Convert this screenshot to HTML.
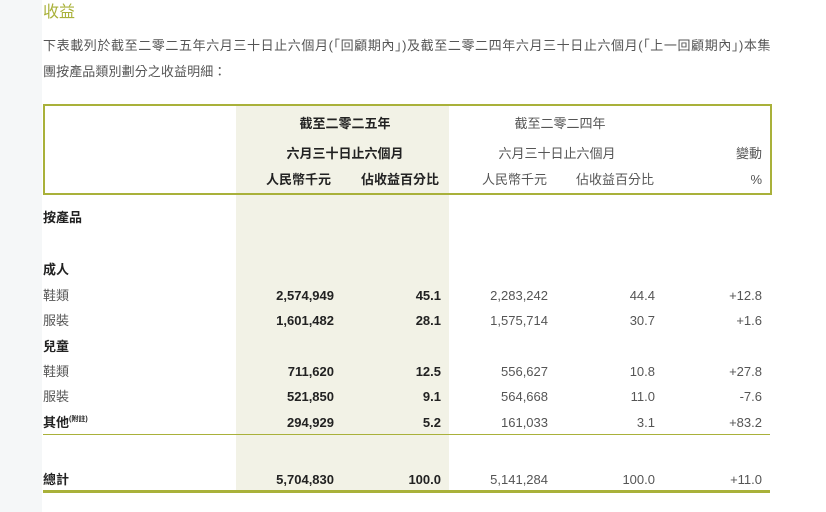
<!DOCTYPE html>
<html><head><meta charset="utf-8"><style>
body{margin:0;width:826px;height:512px;background:#fff;position:relative;overflow:hidden;font-family:"Liberation Sans","Noto Sans CJK TC",sans-serif;color:#333}
.strip{position:absolute;left:0;top:0;width:42px;height:512px;background:#f5f7f8}
.t{position:absolute;white-space:nowrap;font-size:13px;line-height:16px}
.r{text-align:right}
.b{font-weight:bold;color:#222}
.l{color:#555}
.shade{position:absolute;left:236px;top:104px;width:213px;height:386px;background:#f2f2e6}
</style></head><body>
<div class="strip"></div>
<div class="shade"></div>
<div class="t" style="left:43px;top:3px;font-size:16px;line-height:20px;color:#a9b13a">收益</div>
<div class="t l" style="left:43px;top:38px;font-size:13px;letter-spacing:0.6px">下表載列於截至二零二五年六月三十日止六個月(「回顧期內」)及截至二零二四年六月三十日止六個月(「上一回顧期內」)本集</div>
<div class="t l" style="left:43px;top:64px;letter-spacing:0.1px">團按產品類別劃分之收益明細：</div>
<div style="position:absolute;left:43px;top:104px;width:725px;height:87px;border:2px solid #a9b13a"></div>
<div class="t b" style="left:290px;top:116px;width:110px;text-align:center">截至二零二五年</div>
<div class="t b" style="left:280px;top:146px;width:130px;text-align:center">六月三十日止六個月</div>
<div class="t b" style="left:266px;top:172px">人民幣千元</div>
<div class="t b" style="left:361px;top:172px">佔收益百分比</div>
<div class="t l" style="left:505px;top:116px;width:110px;text-align:center">截至二零二四年</div>
<div class="t l" style="left:492px;top:146px;width:130px;text-align:center">六月三十日止六個月</div>
<div class="t l" style="left:482px;top:172px">人民幣千元</div>
<div class="t l" style="left:576px;top:172px">佔收益百分比</div>
<div class="t l r" style="left:700px;top:146px;width:62px">變動</div>
<div class="t l r" style="left:700px;top:172px;width:62px">%</div>

<div class="t b" style="left:43px;top:210px">按產品</div>
<div class="t b" style="left:43px;top:262px">成人</div>
<div class="t l" style="left:43px;top:288px">鞋類</div>
<div class="t l" style="left:43px;top:313px">服裝</div>
<div class="t b" style="left:43px;top:339px">兒童</div>
<div class="t l" style="left:43px;top:364px">鞋類</div>
<div class="t l" style="left:43px;top:389px">服裝</div>
<div class="t b" style="left:43px;top:415px">其他<span style="font-size:7px;position:relative;top:-6px;line-height:0">(附註)</span></div>
<div class="t b" style="left:43px;top:472px">總計</div>

<div style="position:absolute;left:43px;top:434px;width:727px;height:1px;background:#a9b13a"></div>
<div style="position:absolute;left:43px;top:490px;width:727px;height:3px;background:#a9b13a"></div>

<div id="rows"></div>
<script>
var rows=[[288,"2,574,949","45.1","2,283,242","44.4","+12.8"],[313,"1,601,482","28.1","1,575,714","30.7","+1.6"],[364,"711,620","12.5","556,627","10.8","+27.8"],[389,"521,850","9.1","564,668","11.0","-7.6"],[415,"294,929","5.2","161,033","3.1","+83.2"],[472,"5,704,830","100.0","5,141,284","100.0","+11.0"]];
var ed=[334,441,548,655,762],h="";
rows.forEach(function(r){for(var i=0;i<5;i++){h+='<div class="t r '+(i<2?'b':'l')+'" style="left:'+(ed[i]-100)+'px;width:100px;top:'+r[0]+'px">'+r[i+1]+'</div>';}});
document.getElementById("rows").innerHTML=h;
</script>
</body></html>
